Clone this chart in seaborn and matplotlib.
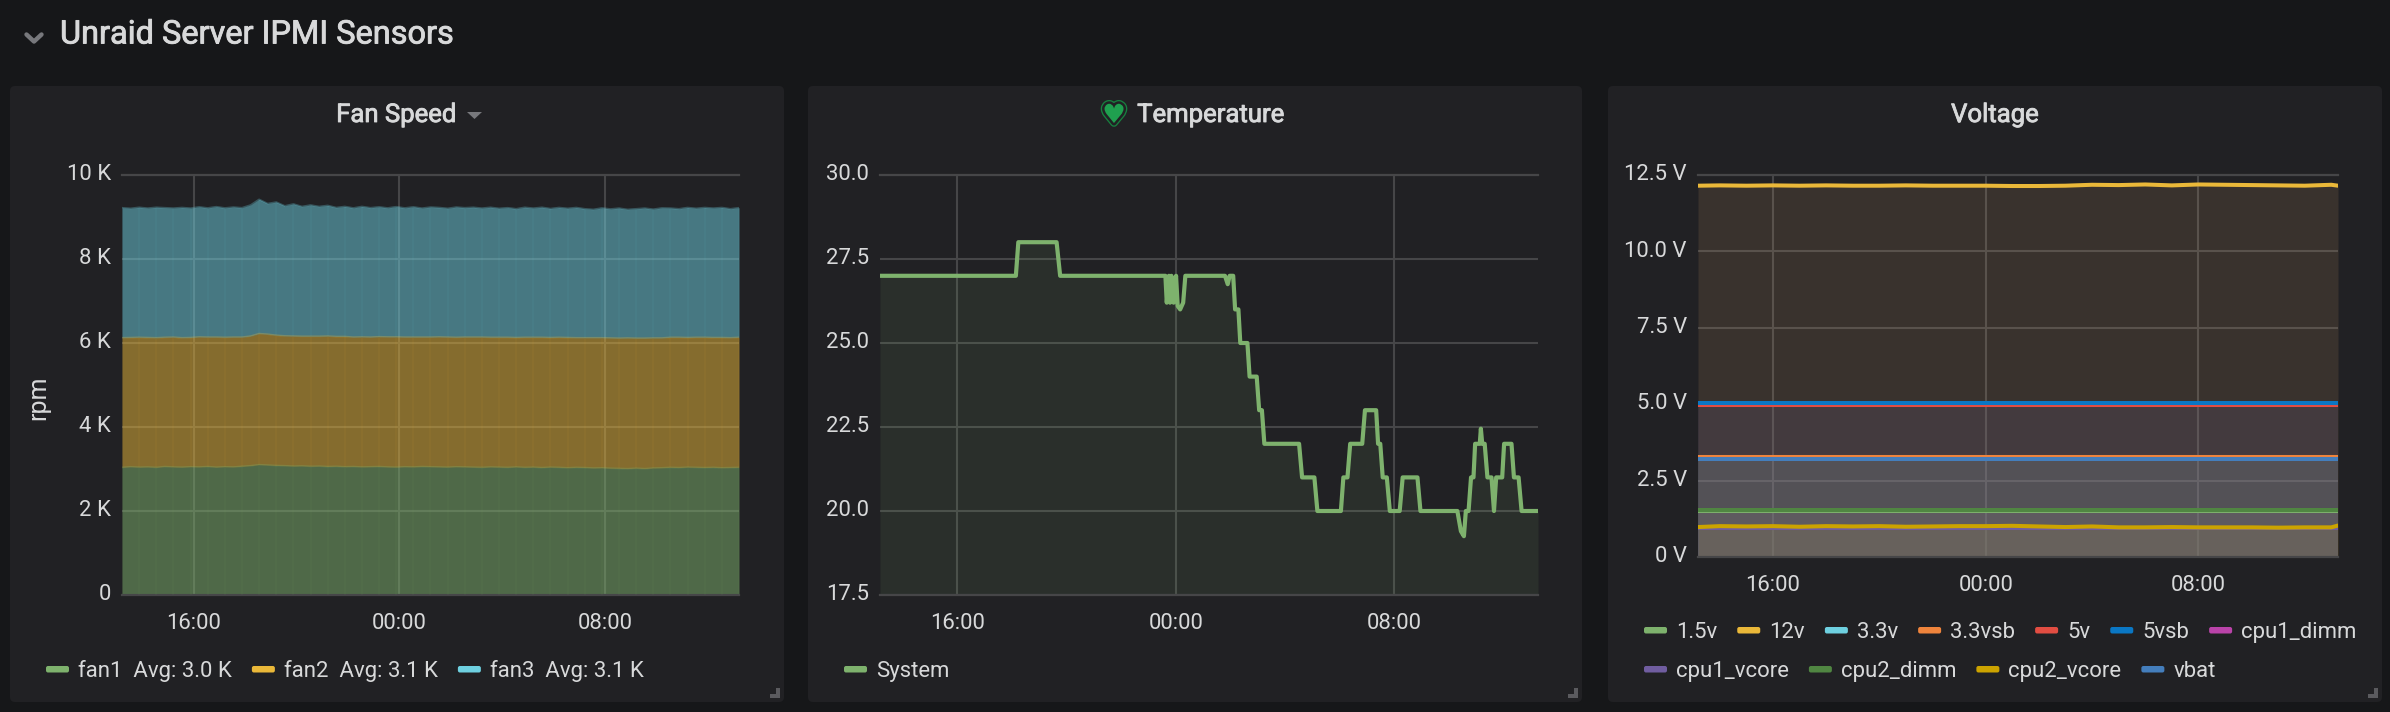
import matplotlib
matplotlib.use("Agg")
import matplotlib.pyplot as plt
import matplotlib.patheffects as pe
from matplotlib.patches import FancyBboxPatch, Polygon, Rectangle
from matplotlib.transforms import IdentityTransform, ScaledTranslation
import numpy as np
import seaborn as sns

# tick data
tick_hours = [16, 24, 32]
tick_labels = ["16:00", "00:00", "08:00"]

# fan speed, one sample every 20 min, stacked in the chart
fan1 = [3030, 3045, 3035, 3040, 3030, 3050, 3040, 3035, 3045, 3040, 3050, 3035, 3045, 3040, 3055,
        3070, 3095, 3085, 3075, 3070, 3060, 3065, 3055, 3060, 3050, 3055, 3045, 3050, 3040, 3045, 3050,
        3040, 3035, 3045, 3040, 3050, 3045, 3040, 3035, 3045, 3040, 3035, 3030, 3040, 3035, 3030, 3040,
        3030, 3035, 3025, 3035, 3030, 3020, 3030, 3025, 3015, 3020, 3010, 3005, 3000, 3010, 3000, 3015,
        3020, 3030, 3025, 3035, 3030, 3025, 3030, 3020, 3025, 3030]
fan2 = [3090, 3080, 3095, 3085, 3090, 3080, 3095, 3085, 3080, 3100, 3085, 3100, 3085, 3095, 3080,
        3090, 3125, 3120, 3105, 3095, 3100, 3090, 3100, 3095, 3110, 3095, 3105, 3085, 3100, 3090, 3095,
        3100, 3105, 3090, 3095, 3085, 3090, 3100, 3100, 3085, 3095, 3100, 3105, 3090, 3095, 3100, 3085,
        3100, 3095, 3105, 3090, 3100, 3105, 3090, 3095, 3105, 3100, 3105, 3105, 3115, 3100, 3110, 3100,
        3095, 3100, 3105, 3090, 3100, 3105, 3095, 3105, 3095, 3100]
fan3 = [3100, 3080, 3100, 3085, 3110, 3090, 3075, 3105, 3085, 3100, 3080, 3110, 3085, 3100, 3085,
        3125, 3200, 3115, 3175, 3100, 3150, 3095, 3130, 3095, 3115, 3075, 3100, 3080, 3110, 3085, 3095,
        3075, 3105, 3080, 3105, 3075, 3100, 3085, 3070, 3105, 3085, 3095, 3075, 3100, 3075, 3090, 3070,
        3100, 3080, 3100, 3075, 3095, 3080, 3105, 3075, 3060, 3095, 3075, 3100, 3065, 3085, 3100, 3070,
        3100, 3080, 3065, 3100, 3075, 3095, 3085, 3100, 3075, 3090]
fan_avg = ["3.0 K", "3.1 K", "3.1 K"]

# temperature
temp_hours = [13.18, 18.15, 18.24, 19.64, 19.77, 23.62, 23.67, 23.75, 23.79, 23.84, 23.92, 24.01, 24.07,
              24.16, 24.27, 24.35, 25.80, 25.90, 25.97, 26.10, 26.17, 26.29, 26.36, 26.62, 26.70, 26.96,
              27.05, 27.15, 27.24, 28.51, 28.62, 29.07, 29.18, 30.04, 30.13, 30.28, 30.38, 30.82, 30.92,
              31.33, 31.40, 31.48, 31.57, 31.72, 31.83, 32.19, 32.30, 32.84, 32.95, 34.30, 34.43, 34.54,
              34.61, 34.71, 34.80, 34.89, 34.95, 35.12, 35.16, 35.21, 35.30, 35.40, 35.55, 35.64, 35.72,
              35.94, 36.01, 36.28, 36.37, 36.54, 36.65, 37.25]
temp_system = [27, 27, 28, 28, 27, 27, 26.2, 27, 26.2, 27, 26.2, 27, 26.1,
               26.0, 26.2, 27, 27, 26.75, 27, 27, 26, 26, 25, 25, 24, 24,
               23, 23, 22, 22, 21, 21, 20, 20, 21, 21, 22, 22, 23,
               23, 22, 22, 21, 21, 20, 20, 21, 21, 20, 20, 19.4, 19.25,
               20, 20, 21, 21, 22, 22, 22.45, 22, 22, 21, 21, 20, 21,
               21, 22, 22, 21, 21, 20, 20]

# voltage, hourly for the noisy ones
v_edges = [13.18, 37.25]
v_hours = [13.18, 14, 15, 16, 17, 18, 19, 20, 21, 22, 23, 24, 25, 26, 27, 28, 29, 30, 31, 32, 33, 34, 35, 36, 37, 37.25]
v12 = [12.15, 12.16, 12.15, 12.16, 12.15, 12.16, 12.15, 12.15, 12.16, 12.15, 12.15, 12.15, 12.14, 12.14,
       12.15, 12.18, 12.17, 12.19, 12.16, 12.19, 12.18, 12.17, 12.16, 12.15, 12.18, 12.15]
v_1_5 = [1.5, 1.5]
v_3_3 = [3.27, 3.27]
v_3_3sb = [3.28, 3.28]
v_5 = [4.99, 4.99]
v_5sb = [5.05, 5.05]
cpu1_dimm = [1.53, 1.53]
cpu1_vcore = [0.95, 0.95]
cpu2_dimm = [1.55, 1.55]
cpu2_vcore = [0.98, 1.01, 1.0, 1.01, 0.99, 1.01, 1.0, 1.01, 0.99, 1.0, 1.01, 1.01, 1.02, 1.0,
              0.98, 1.0, 0.97, 0.97, 0.98, 0.97, 0.97, 0.97, 0.96, 0.97, 0.97, 1.03]
vbat = [3.22, 3.22]

green, yellow, cyan = "#7EB26D", "#EAB839", "#6ED0E0"
bg = "#161719"
panel_bg = "#212124"
grid_col = "#464648"
text_col = "#d8d9da"
handle_col = "#5a5a5e"
label_size = 15.9
medium = [pe.withStroke(linewidth=0.6, foreground=text_col)]

sns.set_theme(style="dark", rc={"axes.facecolor": panel_bg, "figure.facecolor": bg, "grid.color": grid_col})
plt.rcParams["font.family"] = ["Roboto", "DejaVu Sans"]

W, H = 2390, 712
fig = plt.figure(figsize=(W / 100, H / 100), dpi=100)


def add_ax(left, right, top, bottom):
    return fig.add_axes([left / W, 1 - bottom / H, (right - left) / W, (bottom - top) / H])


def fx(x):
    return x / W


def fy(y):
    return 1 - y / H


def round_box(left, top, width, height, col, radius, z=1):
    # pixel coordinates, y from the top of the page
    box = FancyBboxPatch((left, H - top - height), width, height, transform=IdentityTransform(),
                         boxstyle=f"round,pad=0,rounding_size={radius}", facecolor=col, edgecolor="none", zorder=z)
    fig.add_artist(box)


def style(ax, xlim, ylim, yticks, ylabels):
    ax.set_xlim(*xlim)
    ax.set_ylim(*ylim)
    ax.set_xticks(tick_hours, tick_labels)
    ax.set_yticks(yticks, ylabels)
    ax.grid(True, color=grid_col, linewidth=1.5, zorder=0)
    ax.set_axisbelow(True)
    ax.tick_params(axis="both", length=0, labelsize=label_size, labelcolor=text_col)
    ax.tick_params(axis="x", pad=13)
    ax.tick_params(axis="y", pad=8)
    ax.set_xlabel("")
    ax.set_ylabel("")
    for name, s in ax.spines.items():
        s.set_visible(name in ("top", "bottom"))
        s.set_color(grid_col)
        s.set_linewidth(1.6)
    ax.patch.set_alpha(0)
    # labels sit a little above their grid lines
    up = ScaledTranslation(0, 0.028, fig.dpi_scale_trans)
    for lab in ax.get_yticklabels():
        lab.set_transform(lab.get_transform() + up)


def flow_legend(items, x0, y0, x_max=None, row_h=39, gap=20):
    # grafana style legend, wraps on the panel width
    r = fig.canvas.get_renderer()
    x, y = x0, y0
    for col, label in items:
        t = fig.text(fx(x + 32), fy(y), label, color=text_col, fontsize=label_size, va="center_baseline", ha="left")
        w = t.get_window_extent(r).width
        if x_max and x + 32 + w > x_max:
            x, y = x0, y + row_h
            t.set_position((fx(x + 32), fy(y)))
        round_box(x, y - 3, 23, 6.5, col, 2)
        x += 32 + w + gap


# page furniture
for left, right in [(10, 784), (808, 1582), (1608, 2382)]:
    round_box(left, 86, right - left, 616, panel_bg, 5, z=-5)
    for bx, by, bw, bh in [(right - 14, 694, 10, 4), (right - 8, 688, 4, 10)]:
        fig.add_artist(Rectangle((fx(bx), fy(by + bh)), bw / W, bh / H, transform=fig.transFigure,
                                 facecolor=handle_col, edgecolor="none"))

fig.text(fx(60), fy(35), "Unraid Server IPMI Sensors", color=text_col, fontsize=23.4, va="center", path_effects=medium)
fig.add_artist(plt.Line2D([fx(26.5), fx(34), fx(41.5)], [fy(34.5), fy(41.5), fy(34.5)], color="#77787c", linewidth=3.2))

fig.text(fx(396.5), fy(115), "Fan Speed", color=text_col, fontsize=18.5, ha="center", va="center", path_effects=medium)
fig.add_artist(Polygon([(fx(467), fy(112)), (fx(482), fy(112)), (fx(474.5), fy(119))], transform=fig.transFigure,
                       facecolor="#77787c", edgecolor="none"))
fig.text(fx(1211), fy(115), "Temperature", color=text_col, fontsize=18.5, ha="center", va="center", path_effects=medium)
heart = fig.text(fx(1114), fy(116), "\u2665", color="#1fa04f", fontsize=19, ha="center", va="center", family="DejaVu Sans")
heart.set_path_effects([pe.Stroke(linewidth=5.5, foreground="#17803f"), pe.Stroke(linewidth=3.6, foreground=panel_bg), pe.Normal()])
fig.text(fx(1995), fy(115), "Voltage", color=text_col, fontsize=18.5, ha="center", va="center", path_effects=medium)

# fan speed
ax1 = add_ax(122, 739, 175, 594.5)
fan_hours = np.linspace(13.22, 37.2, len(fan1))
lower = np.zeros(len(fan1))
for vals, col in [(fan1, green), (fan2, yellow), (fan3, cyan)]:
    upper = lower + np.array(vals)
    ax1.fill_between(fan_hours, lower, upper, color=col, alpha=0.5, linewidth=0, zorder=2)
    sns.lineplot(x=fan_hours, y=upper, color=col, alpha=0.3, linewidth=1.2, ax=ax1, zorder=3)
    # faint vertical banding in the fill, one band per other sample
    ax1.vlines(fan_hours[::2], lower[::2], upper[::2] - 20, color=col, alpha=0.05, linewidth=1.6, zorder=3)
    lower = upper
style(ax1, (13.22, 37.2), (0, 10000), [0, 2000, 4000, 6000, 8000, 10000], ["0", "2 K", "4 K", "6 K", "8 K", "10 K"])
ax1.set_ylabel("rpm", color=text_col, fontsize=18)
ax1.yaxis.set_label_coords((50 - 122) / 617, 0.47)
flow_legend([(green, "fan1  Avg: " + fan_avg[0]), (yellow, "fan2  Avg: " + fan_avg[1]), (cyan, "fan3  Avg: " + fan_avg[2])], 46, 669)

# temperature
ax2 = add_ax(880, 1538, 175, 595)
ax2.fill_between(temp_hours, 17.5, temp_system, color=green, alpha=0.1, linewidth=0, zorder=2)
sns.lineplot(x=temp_hours, y=temp_system, color=green, linewidth=3.0, ax=ax2, zorder=3)
style(ax2, (13.18, 37.25), (17.5, 30), [17.5, 20, 22.5, 25, 27.5, 30], ["17.5", "20.0", "22.5", "25.0", "27.5", "30.0"])
flow_legend([(green, "System")], 844, 669)

# voltage
ax3 = add_ax(1698, 2338, 175, 557)
v_series = [
    ("1.5v", green, v_edges, v_1_5), ("12v", yellow, v_hours, v12), ("3.3v", cyan, v_edges, v_3_3),
    ("3.3vsb", "#EF843C", v_edges, v_3_3sb), ("5v", "#E24D42", v_edges, v_5), ("5vsb", "#0A77C4", v_edges, v_5sb),
    ("cpu1_dimm", "#BA43A9", v_edges, cpu1_dimm), ("cpu1_vcore", "#705DA0", v_edges, cpu1_vcore),
    ("cpu2_dimm", "#508642", v_edges, cpu2_dimm), ("cpu2_vcore", "#CCA300", v_hours, cpu2_vcore),
    ("vbat", "#447EBC", v_edges, vbat),
]
for name, col, xs, ys in v_series:
    # the 12v wash reads browner than its line in the screenshot
    fill_col, fill_a = ("#E8B070", 0.12) if name == "12v" else (col, 0.1)
    ax3.fill_between(xs, 0, ys, color=fill_col, alpha=fill_a, linewidth=0, zorder=2)
for name, col, xs, ys in v_series:
    sns.lineplot(x=xs, y=ys, color=col, linewidth=2.9, ax=ax3, zorder=3)
style(ax3, (13.18, 37.25), (0, 12.5), [0, 2.5, 5, 7.5, 10, 12.5], ["0 V", "2.5 V", "5.0 V", "7.5 V", "10.0 V", "12.5 V"])
flow_legend([(c, n) for n, c, _, _ in v_series], 1644, 630, x_max=2372)

fig.savefig("out.png", dpi=100, facecolor=bg)
